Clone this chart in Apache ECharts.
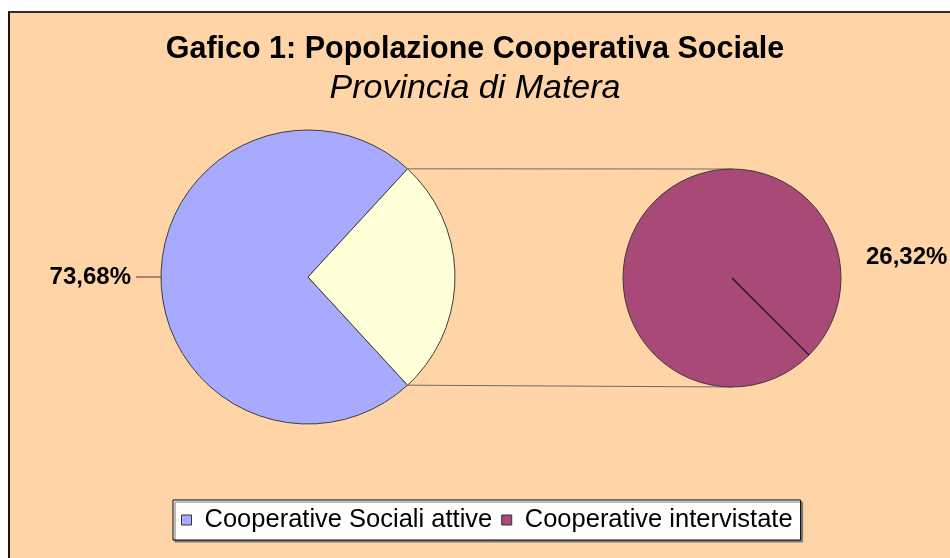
<!DOCTYPE html>
<html>
<head>
<meta charset="utf-8">
<script src="https://cdn.jsdelivr.net/npm/echarts@6/dist/echarts.min.js"></script>
<style>
    html, body { margin: 0; padding: 0; background: #ffffff; }
    #wrap { position: relative; width: 950px; height: 558px; overflow: hidden; }
    #plotArea {
        position: absolute; left: 8px; top: 11px; width: 980px; height: 600px;
        background: #FFD5A7; border-left: 2px solid #1c1510; border-top: 2px solid #3a2a1c;
    }
    #chart { position: absolute; left: 0; top: 0; width: 950px; height: 558px; }
</style>
</head>
<body>
<div id="wrap">
    <div id="plotArea"></div>
    <div id="chart"></div>
</div>
<script>
// valori (percentuali)
const mainNames = ['Cooperative Sociali attive', 'Altro'];
const mainValues = [73.68, 26.32];
const secondNames = ['Cooperative intervistate'];
const secondValues = [26.32];
const legendNames = ['Cooperative Sociali attive', 'Cooperative intervistate'];

const FONT = 'Arial, "Liberation Sans", sans-serif';
const mainCenter = [308, 277], mainRadius = 147;
const secondCenter = [732, 278], secondRadius = 109;
const secondLineAngle = -45;

function SetupChart() {
    const chart = echarts.init(document.getElementById('chart'));

    const total = mainValues.reduce((s, v) => s + v, 0);
    const otherAngle = mainValues[1] / total * 360;
    // la fetta "Altro" centrata a destra
    const mainStart = otherAngle / 2 + (360 - otherAngle);

    const rad = a => a * Math.PI / 180;
    const half = rad(otherAngle / 2);
    const pTop = [mainCenter[0] + mainRadius * Math.cos(half), mainCenter[1] - mainRadius * Math.sin(half)];
    const pBot = [mainCenter[0] + mainRadius * Math.cos(half), mainCenter[1] + mainRadius * Math.sin(half)];
    const qTop = [secondCenter[0], secondCenter[1] - secondRadius];
    const qBot = [secondCenter[0], secondCenter[1] + secondRadius];
    const lineEnd = [
        secondCenter[0] + secondRadius * Math.cos(rad(secondLineAngle)),
        secondCenter[1] - secondRadius * Math.sin(rad(secondLineAngle))
    ];

    const pieBorder = { borderColor: '#3c3c3c', borderWidth: 1 };

    chart.setOption({
        animation: false,
        title: {
            text: 'Gafico 1: Popolazione Cooperativa Sociale',
            subtext: 'Provincia di Matera',
            left: 'center',
            top: 29,
            itemGap: 7,
            textStyle: { fontFamily: FONT, fontSize: 30.5, fontWeight: 'bold', color: '#000' },
            subtextStyle: { fontFamily: FONT, fontSize: 34, fontStyle: 'italic', color: '#000' }
        },
        legend: {
            data: legendNames,
            left: 173,
            top: 500,
            icon: 'rect',
            itemWidth: 10,
            itemHeight: 10,
            itemGap: 9,
            padding: [7, 8],
            backgroundColor: '#ffffff',
            borderColor: '#000',
            borderWidth: 1,
            shadowColor: '#7a7a7a',
            shadowOffsetX: 2,
            shadowOffsetY: 2,
            shadowBlur: 0,
            itemStyle: { borderColor: '#333', borderWidth: 1 },
            textStyle: { fontFamily: FONT, fontSize: 25.5, color: '#000', padding: [0, 0, 0, 8] }
        },
        graphic: [
            { type: 'line', shape: { x1: pTop[0], y1: pTop[1], x2: qTop[0], y2: qTop[1] }, style: { stroke: '#6e6a66', lineWidth: 1 } },
            { type: 'line', shape: { x1: pBot[0], y1: pBot[1], x2: qBot[0], y2: qBot[1] }, style: { stroke: '#6e6a66', lineWidth: 1 } },
            { type: 'line', z: 100, shape: { x1: secondCenter[0], y1: secondCenter[1], x2: lineEnd[0], y2: lineEnd[1] }, style: { stroke: '#1a0d14', lineWidth: 1.2 } }
        ],
        series: [
            {
                type: 'pie',
                center: mainCenter,
                radius: mainRadius,
                startAngle: mainStart,
                label: {
                    position: 'outside',
                    fontFamily: FONT, fontSize: 24, fontWeight: 'bold', color: '#000',
                    formatter: p => p.value.toFixed(2).replace('.', ',') + '%'
                },
                labelLine: { length: 4, length2: 21, lineStyle: { color: '#5a2a40', width: 1 } },
                data: [
                    { name: mainNames[0], value: mainValues[0], itemStyle: Object.assign({ color: '#A7AAFF' }, pieBorder) },
                    { name: mainNames[1], value: mainValues[1], itemStyle: Object.assign({ color: '#FFFFD8' }, pieBorder), label: { show: false }, labelLine: { show: false } }
                ]
            },
            {
                type: 'pie',
                center: secondCenter,
                radius: secondRadius,
                startAngle: secondLineAngle,
                label: {
                    fontFamily: FONT, fontSize: 24, fontWeight: 'bold', color: '#000',
                    formatter: p => p.value.toFixed(2).replace('.', ',') + '%'
                },
                labelLine: { show: false },
                labelLayout: () => ({ x: 866, y: 257, align: 'left', verticalAlign: 'middle' }),
                data: secondNames.map((n, i) => ({
                    name: n, value: secondValues[i],
                    itemStyle: Object.assign({ color: '#A84977' }, pieBorder)
                }))
            }
        ]
    });
}

SetupChart();
</script>
</body>
</html>
